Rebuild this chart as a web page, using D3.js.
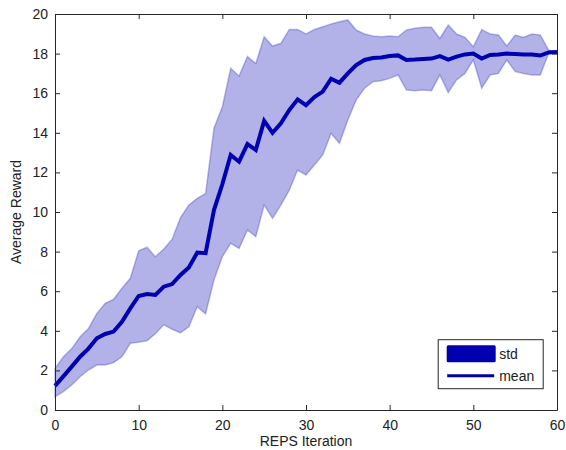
<!DOCTYPE html>
<html lang="en">
<head>
  <meta charset="UTF-8">
  <script src="https://d3js.org/d3.v7.min.js"></script>
  <title>REPS Iteration</title>
  <style>
    body { margin: 0; background: #fff; }
    text { font-family: "Liberation Sans", Arial, sans-serif; fill: #222; }
  </style>
</head>
<body>
<div id="chart"></div>
<script>

// iteration index 0..60
var iterations = d3.range(0, 61);

var meanReward = [1.22, 1.7, 2.19, 2.69, 3.1, 3.62, 3.84, 3.96, 4.46, 5.13,
  5.76, 5.86, 5.81, 6.23, 6.36, 6.82, 7.2, 7.95, 7.92, 10.1,
  11.4, 12.88, 12.54, 13.43, 13.13, 14.6, 14.0, 14.48, 15.15, 15.69,
  15.4, 15.8, 16.08, 16.73, 16.53, 17.0, 17.42, 17.68, 17.78, 17.8,
  17.88, 17.91, 17.68, 17.7, 17.73, 17.75, 17.87, 17.7, 17.85, 17.96,
  18.0, 17.75, 17.93, 17.96, 18.0, 17.98, 17.95, 17.95, 17.9, 18.06, 18.08];

var upperReward = [2.1, 2.69, 3.1, 3.7, 4.12, 4.88, 5.39, 5.59, 6.15, 6.65,
  8.04, 8.22, 7.74, 8.13, 8.63, 9.72, 10.35, 10.69, 10.94, 14.23,
  15.32, 17.26, 16.87, 17.85, 17.5, 18.85, 18.38, 18.52, 19.22, 19.22,
  18.99, 19.22, 19.36, 19.5, 19.61, 19.7, 19.19, 18.99, 18.89, 18.85,
  18.89, 18.85, 19.19, 19.28, 19.33, 19.33, 18.77, 19.44, 18.99, 18.82,
  18.35, 19.22, 18.99, 18.94, 18.38, 18.94, 18.82, 18.99, 18.94, 18.18, 18.08];

var lowerReward = [0.67, 0.93, 1.26, 1.68, 2.02, 2.27, 2.27, 2.39, 2.69, 3.37,
  3.42, 3.5, 3.85, 4.3, 4.08, 3.9, 4.2, 5.22, 4.85, 6.57,
  7.74, 8.42, 8.16, 9.09, 8.75, 10.35, 9.68, 10.35, 11.1, 12.12,
  11.87, 12.37, 12.88, 13.97, 13.47, 14.65, 15.66, 16.25, 16.58, 16.63,
  16.75, 16.92, 16.16, 16.13, 16.16, 16.13, 16.92, 16.03, 16.67, 17.0,
  17.68, 16.25, 16.92, 17.0, 17.68, 17.09, 17.0, 16.92, 16.92, 18.0, 18.08];

var xTicks = [0, 10, 20, 30, 40, 50, 60];
var yTicks = [0, 2, 4, 6, 8, 10, 12, 14, 16, 18, 20];
var legendLabels = ["std", "mean"];

var margin = {top: 14, right: 9, bottom: 40, left: 55},
    width = 566 - margin.left - margin.right,
    height = 450 - margin.top - margin.bottom;

var svg = d3.select("#chart")
  .append("svg")
    .attr("width", 566)
    .attr("height", 450)
  .append("g")
    .attr("transform", "translate(" + margin.left + "," + margin.top + ")");

var x = d3.scaleLinear().domain([0, 60]).range([0, width]);
var y = d3.scaleLinear().domain([0, 20]).range([height, 0]);

var data = iterations.map(function(d, i) {
  return {it: d, mean: meanReward[i], lo: lowerReward[i], hi: upperReward[i]};
});

// std band
svg.append("path")
  .datum(data)
  .attr("fill", "#0000b4")
  .attr("fill-opacity", 0.3)
  .attr("stroke", "#0000b4")
  .attr("stroke-opacity", 0.25)
  .attr("stroke-width", 1.5)
  .attr("d", d3.area()
    .x(function(d) { return x(d.it); })
    .y0(function(d) { return y(d.lo); })
    .y1(function(d) { return y(d.hi); }));

// mean line
svg.append("path")
  .datum(data)
  .attr("fill", "none")
  .attr("stroke", "#0000b0")
  .attr("stroke-width", 4)
  .attr("d", d3.line()
    .x(function(d) { return x(d.it); })
    .y(function(d) { return y(d.mean); }));

// axes, matlab style box with inward ticks
function styleAxis(g) {
  g.select(".domain").attr("stroke", "#262626");
  g.selectAll(".tick line").attr("stroke", "#262626");
  g.selectAll(".tick text").style("font-size", "14px").attr("fill", "#222");
}

svg.append("g")
  .attr("transform", "translate(0," + height + ")")
  .call(d3.axisBottom(x).tickValues(xTicks).tickSizeInner(-5).tickSizeOuter(0).tickPadding(10))
  .call(styleAxis);

svg.append("g")
  .call(d3.axisLeft(y).tickValues(yTicks).tickSizeInner(-5).tickSizeOuter(0).tickPadding(7))
  .call(styleAxis);

svg.append("g")
  .call(d3.axisTop(x).tickValues(xTicks).tickSizeInner(-5).tickSizeOuter(0).tickFormat(""))
  .call(styleAxis);

svg.append("g")
  .attr("transform", "translate(" + width + ",0)")
  .call(d3.axisRight(y).tickValues(yTicks).tickSizeInner(-5).tickSizeOuter(0).tickFormat(""))
  .call(styleAxis);

// axis labels
svg.append("text")
  .attr("x", width / 2)
  .attr("y", height + 36)
  .attr("text-anchor", "middle")
  .style("font-size", "14px")
  .text("REPS Iteration");

svg.append("text")
  .attr("transform", "rotate(-90)")
  .attr("x", -height / 2)
  .attr("y", -34)
  .attr("text-anchor", "middle")
  .style("font-size", "14px")
  .text("Average Reward");

// legend
var lg = svg.append("g")
  .attr("transform", "translate(" + (x(45.8)) + "," + (y(3.55)) + ")");

lg.append("rect")
  .attr("width", 105).attr("height", 49)
  .attr("fill", "#fff")
  .attr("stroke", "#262626");

lg.append("rect")
  .attr("x", 8.5).attr("y", 5.5)
  .attr("width", 49).attr("height", 17)
  .attr("rx", 1.5)
  .attr("fill", "#0000b0");

lg.append("line")
  .attr("x1", 9).attr("x2", 56)
  .attr("y1", 36).attr("y2", 36)
  .attr("stroke", "#0000b0")
  .attr("stroke-width", 3);

lg.selectAll("text.lab")
  .data(legendLabels)
  .enter().append("text")
  .attr("class", "lab")
  .attr("x", 61)
  .attr("y", function(d, i) { return 19 + i * 22; })
  .style("font-size", "14px")
  .text(function(d) { return d; });

</script>
</body>
</html>
